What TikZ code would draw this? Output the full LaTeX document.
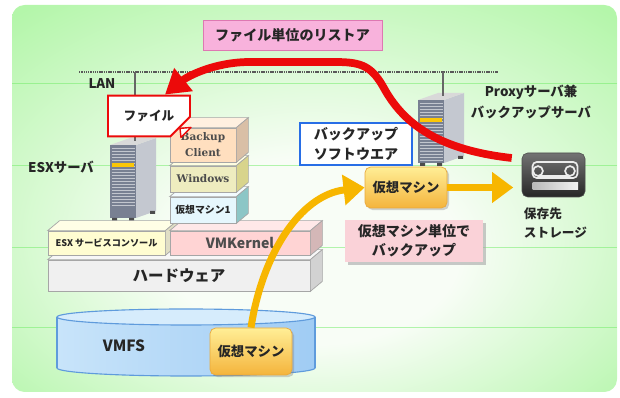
\documentclass[tikz,border=0pt]{standalone}
\usepackage{fontspec}
\setmainfont{Noto Sans CJK JP}
\newfontfamily\latinbox{DejaVu Serif}
\usetikzlibrary{arrows.meta,shapes.misc,shadows,calc}

% one unit of length in the drawing
\newdimen\pxu
\pxu=0.025cm

\definecolor{panelgreen}{RGB}{180,246,170}
\definecolor{panelwhite}{RGB}{248,253,246}
\definecolor{guideline}{RGB}{110,236,100}
\definecolor{titlepink}{RGB}{248,178,220}
\definecolor{titleedge}{RGB}{222,120,178}
\definecolor{restorered}{RGB}{236,10,10}
\definecolor{vmorange}{RGB}{247,182,0}
\definecolor{vmtop}{RGB}{255,238,150}
\definecolor{vmbottom}{RGB}{244,180,60}
\definecolor{softblue}{RGB}{40,110,230}
\definecolor{notepink}{RGB}{250,210,216}
\definecolor{diskedge}{RGB}{95,155,220}
\definecolor{disktop}{RGB}{214,236,252}
\definecolor{diskleft}{RGB}{200,228,250}
\definecolor{diskright}{RGB}{160,204,244}
\definecolor{towerfront}{RGB}{120,128,146}
\definecolor{towerside}{RGB}{196,200,208}

\pgfdeclareradialshading{panelglow}{\pgfpoint{0bp}{-9bp}}{%
  color(0bp)=(panelwhite); color(12bp)=(panelwhite);
  color(36bp)=(panelgreen); color(50bp)=(panelgreen)}

\tikzset{
  every node/.style={text=black!85},
  lbl/.style={font=\fontsize{9.5}{15}\selectfont\bfseries},
  titlebox/.style={draw=titleedge, fill=titlepink, line width=0.6pt,
    minimum width=179\pxu, minimum height=30\pxu,
    font=\fontsize{10}{12}\selectfont\bfseries},
  lanline/.style={black!65, line width=1.1pt, dash pattern=on 1pt off 0.6pt},
  dropline/.style={black!60, line width=0.8pt},
  layer/.style={draw=gray!70, line width=0.5pt, inner sep=0pt},
  filebox/.style={chamfered rectangle, chamfered rectangle corners=south east,
    chamfered rectangle xsep=7pt, chamfered rectangle ysep=7pt,
    draw=restorered, line width=1.4pt, fill=white,
    minimum width=82\pxu, minimum height=32\pxu,
    font=\fontsize{9}{11}\selectfont\bfseries},
  vmbox/.style={rounded corners=4pt, top color=vmtop, bottom color=vmbottom,
    draw=vmbottom!80!brown, line width=0.5pt, minimum width=82\pxu,
    font=\fontsize{9.5}{11}\selectfont\bfseries,
    drop shadow={opacity=0.35, shadow xshift=1.5pt, shadow yshift=-1.5pt}},
  softbox/.style={draw=softblue, line width=1.5pt, fill=white, align=center,
    minimum width=112\pxu, minimum height=42\pxu,
    font=\fontsize{10}{14.2}\selectfont\bfseries},
  notebox/.style={fill=notepink, align=center,
    minimum width=138\pxu, minimum height=42\pxu,
    font=\fontsize{10}{13.5}\selectfont\bfseries,
    drop shadow={fill=gray!70, opacity=0.6, shadow xshift=2pt, shadow yshift=-2pt}},
  storebox/.style={rounded corners=4pt, top color=black!55, bottom color=black!85,
    draw=black!70, minimum width=63\pxu, minimum height=44\pxu},
  restorearrow/.style={draw=restorered, line width=5.5pt,
    -{Triangle[length=17pt,width=20pt]}},
  vmarrow/.style={draw=vmorange, line width=5pt,
    -{Triangle[length=15pt,width=21pt]}},
  pics/tower/.style={code={
    \fill[towerside] (26,0) -- (46,-7) -- (46,#1-7) -- (26,#1) -- cycle;
    \fill[gray!30] (0,0) -- (20,-7) -- (46,-7) -- (26,0) -- cycle;
    \fill[towerfront] (0,0) rectangle (26,#1);
    \foreach \k in {3,6,...,60}
      \draw[white!55!towerfront, line width=0.5pt] (1.5,\k) -- (24.5,\k);
    \fill[yellow!60!orange] (2,18) rectangle (24,22);
    \fill[black!70] (2,#1) rectangle (7,#1+3) (19,#1) rectangle (24,#1+3)
      (40,#1-7) rectangle (45,#1-4);
    \coordinate (-top) at (25,-4);
  }}
}

% top and right faces of a layer block
\newcommand\layerfaces[3]{%
  \filldraw[draw=gray!70, line width=0.5pt, fill=#2]
    (#1.north west) -- ++(12,-10) -- ([shift={(12,-10)}]#1.north east)
    -- (#1.north east) -- cycle;
  \filldraw[draw=gray!70, line width=0.5pt, fill=#3]
    (#1.north east) -- ++(12,-10) -- ([shift={(12,-10)}]#1.south east)
    -- (#1.south east) -- cycle;
}

\begin{document}
\begin{tikzpicture}[x=0.025cm, y=-0.025cm]
\useasboundingbox (0,0) rectangle (620,398);

% panel
\shade[shading=panelglow, rounded corners=9pt] (12,5) rectangle (617,392);
\foreach \gy in {83,165,247,327}
  \draw[guideline, line width=0.4pt, opacity=0.5] (12,\gy) -- (617,\gy);

\node[titlebox] (title) at (292.5,35) {ファイル単位のリストア};

% LAN and servers
\coordinate (lanL) at (79,72);
\coordinate (lanR) at (498,72);
\pic (esx) at (110,145) {tower=73};
\pic (proxy) at (418,100) {tower=63};
\draw[lanline] (lanL) -- (lanR);
\draw[dropline] (lanL -| esx-top) -- (esx-top);
\draw[dropline] (lanL -| proxy-top) -- (proxy-top);

\node[lbl] (lan) at (102,84) {LAN};
\node[lbl] (esxlabel) at (61,167) {ESXサーバ};
\node[lbl, align=center] (proxylabel) at (531,102) {Proxyサーバ兼\\バックアップサーバ};
\node[lbl, align=left, anchor=west, font=\fontsize{9}{14}\selectfont\bfseries]
  (storelabel) at (519,223) {保存先\\ストレージ};

% layer stack
\node[layer, fill=gray!12, minimum width=262\pxu, minimum height=31\pxu,
  font=\fontsize{11}{13}\selectfont\bfseries] (hardware) at (179,275.5) {ハードウェア};
\layerfaces{hardware}{gray!6}{gray!35}
\node[layer, fill=yellow!18, minimum width=117\pxu, minimum height=24\pxu,
  font=\fontsize{6.5}{8}\selectfont\bfseries] (console) at (106.5,243) {ESX サービスコンソール};
\layerfaces{console}{yellow!10}{yellow!30!gray!40}
\node[layer, fill=red!17, minimum width=140\pxu, minimum height=24\pxu,
  font=\fontsize{10}{12}\selectfont\bfseries, text=black!70] (vmkernel) at (240,243) {VMKernel};
\layerfaces{vmkernel}{red!9}{red!25!gray!45}
\node[layer, fill=cyan!10, minimum width=66\pxu, minimum height=26\pxu,
  font=\fontsize{7}{9}\selectfont\bfseries] (vmone) at (203,210) {仮想マシン1};
\layerfaces{vmone}{cyan!5}{teal!45}
\node[layer, fill=yellow!25!olive!20, minimum width=66\pxu, minimum height=26\pxu,
  font=\latinbox\fontsize{7.5}{9}\selectfont\bfseries, text=black!70] (windows) at (203,179) {Windows};
\layerfaces{windows}{yellow!12}{olive!35}
\node[layer, fill=orange!25, minimum width=66\pxu, minimum height=34\pxu, align=center,
  font=\latinbox\fontsize{7.5}{11.3}\selectfont\bfseries, text=black!70] (bclient) at (203,145) {Backup\\Client};
\layerfaces{bclient}{orange!12}{orange!40!gray!50}

% file on the ESX server
\node[filebox] (file) at (149,116) {ファイル};
\filldraw[draw=restorered, fill=white, line width=1pt, line join=round]
  ($(file.east |- file.south)+(0,-10)$) -- ($(file.east |- file.south)+(-10,0)$)
  -- ($(file.east |- file.south)+(-11,-9)$) -- cycle;

% VMFS datastore
\shadedraw[draw=diskedge, line width=0.8pt, left color=diskleft, right color=diskright]
  (186,368) ellipse[x radius=129\pxu, y radius=8\pxu];
\shade[left color=diskleft, right color=diskright] (57,317) rectangle (315,368);
\draw[diskedge, line width=0.8pt] (57,317) -- (57,368) (315,317) -- (315,368);
\filldraw[draw=diskedge, fill=disktop, line width=0.8pt]
  (186,317) ellipse[x radius=129\pxu, y radius=8\pxu];
\node[font=\fontsize{11}{13}\selectfont\bfseries] (vmfs) at (124,346) {VMFS};

\node[vmbox, minimum height=47\pxu] (vmdisk) at (251,351.5) {仮想マシン};

% backup side
\node[softbox] (backupsw) at (356,144) {バックアップ\\ソフトウエア};
\node[vmbox, minimum height=41\pxu] (vmup) at (406,187.5) {仮想マシン};
\node[notebox] (note) at (414,241) {仮想マシン単位で\\バックアップ};

% tape storage
\node[storebox] (store) at (553.5,175) {};
\draw[gray!15, line width=1.2pt, rounded corners=3pt]
  ($(store.center)+(-21,-13)$) rectangle ($(store.center)+(24,3)$);
\draw[gray!15, line width=1.2pt] ($(store.center)+(-15.5,-4)$) circle[radius=3.5pt]
  ($(store.center)+(16.5,-4)$) circle[radius=3.5pt];
\draw[gray!15, line width=1pt] ($(store.center)+(-15.5,1)$) -- ($(store.center)+(16.5,1)$);
\shade[left color=gray!55, right color=gray!10]
  ($(store.center)+(-21,8)$) rectangle ($(store.center)+(24.5,15)$);

% backup and restore flows
\draw[vmarrow] (vmdisk.north) .. controls (262,255) and (300,195) .. (vmup.west);
\draw[vmarrow, shorten >=6pt] (vmup.east) -- (vmup.east -| store.west);
\draw[restorearrow] ($(store.west)+(-10,-17)$) .. controls (440,150) and (405,125) .. (385,90)
  .. controls (372,66) and (362,62) .. (335,62) -- (250,62)
  .. controls (215,62) and (188,76) .. ($(file.north)+(16,0)$);
\end{tikzpicture}
\end{document}
